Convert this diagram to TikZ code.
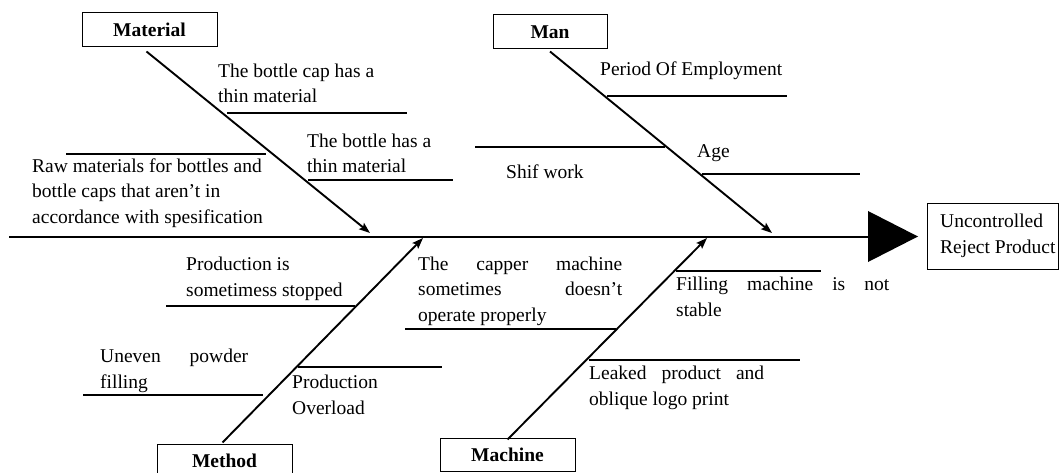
\documentclass[tikz,border=0pt]{standalone}
\usepackage{fontspec}
\setmainfont{Liberation Serif}
\usetikzlibrary{arrows.meta}
\tikzset{
  txt/.style={anchor=base west, inner sep=0pt, align=left, font=\fontsize{19.5}{25.5}\selectfont},
  catbox/.style={draw, line width=1pt, inner sep=0pt, minimum height=34pt, font=\fontsize{19.5}{24}\selectfont\bfseries},
  bone/.style={line width=1.9pt, -{Stealth[length=11pt,width=8pt,inset=2pt]}},
  twig/.style={line width=2pt},
}
\newcommand{\jline}[2]{\makebox[#1][s]{#2}}
\begin{document}
\begin{tikzpicture}[x=1pt,y=-1pt]
\useasboundingbox (0,0) rectangle (1060,473);
% spine
\coordinate (spineL) at (9,237);
\coordinate (spineR) at (870,237);
\draw[line width=2.4pt] (spineL) -- (spineR);
\fill (868,211) -- (918,236.5) -- (868,262) -- cycle;
\node[draw, line width=1pt, minimum width=131pt, minimum height=65pt, inner sep=0pt] (res) at (992.5,236.5) {};
\node[txt] (restxt) at (940,253) {Uncontrolled\\Reject Product};

% category boxes
\node[catbox, minimum width=135pt] (mat) at (149.5,30) {Material};
\node[catbox, minimum width=114pt] (man) at (550,32) {Man};
\node[catbox, minimum width=135pt] (met) at (224.5,461) {Method};
\node[catbox, minimum width=135pt, minimum height=33pt] (mac) at (507.5,454.5) {Machine};

% bone ends on spine
\coordinate (matEnd) at (370,233);
\coordinate (manEnd) at (772,233);
\coordinate (metEnd) at (423,238);
\coordinate (macEnd) at (707,238);

\draw[bone] ([xshift=-3pt,yshift=-4pt]mat.south) -- (matEnd);
\draw[bone] ([yshift=-2pt]man.south) -- (manEnd);
\draw[bone] ([xshift=-2pt,yshift=1pt]met.north) -- (metEnd);
\draw[bone] ([yshift=-2pt]mac.north) -- (macEnd);

% twigs
\draw[twig] (227,113) -- (407,113);
\draw[twig] (308,180) -- (453,180);
\draw[twig] (66,154) -- (266,154);
\draw[twig] (607,96) -- (787,96);
\draw[twig] (475,147) -- (665,147);
\draw[twig] (702,174) -- (860,174);
\draw[twig] (166,306) -- (355,306);
\draw[twig] (83,395) -- (263,395);
\draw[twig] (298,367) -- (442,367);
\draw[twig] (405,329) -- (616,329);
\draw[twig] (676,271) -- (821,271);
\draw[twig] (589,360) -- (800,360);

% texts (anchor = baseline of the last line)
\node[txt] (t1) at (218,103) {The bottle cap has a\\thin material};
\node[txt] (t2) at (307,173) {The bottle has a\\thin material};
\node[txt] (t3) at (32,223) {Raw materials for bottles and\\bottle caps that aren’t in\\accordance with spesification};
\node[txt] (t4) at (600,76) {Period Of Employment};
\node[txt] (t5) at (506,179) {Shif work};
\node[txt] (t6) at (697,158) {Age};
\node[txt] (t7) at (186,296) {Production is\\sometimess stopped};
\node[txt] (t8) at (100,388) {\jline{148pt}{Uneven powder}\\filling};
\node[txt] (t9) at (292,414) {Production\\Overload};
\node[txt] (t10) at (418,321) {\jline{204pt}{The capper machine}\\\jline{204pt}{sometimes doesn’t}\\operate properly};
\node[txt] (t11) at (676,316) {\jline{213pt}{Filling machine is not}\\stable};
\node[txt] (t12) at (589,405) {\jline{175pt}{Leaked product and}\\oblique logo print};
\end{tikzpicture}
\end{document}
